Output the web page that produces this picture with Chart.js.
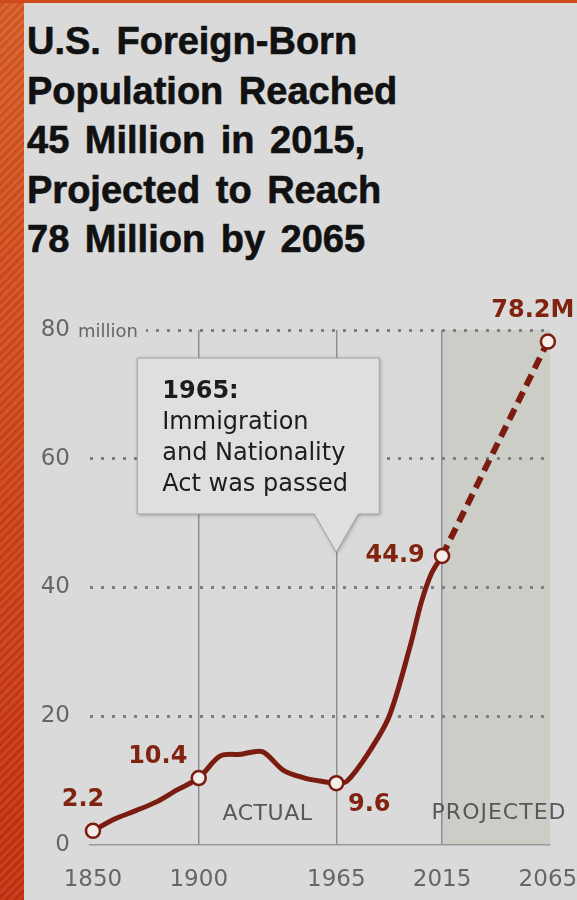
<!DOCTYPE html>
<html>
<head>
<meta charset="utf-8">
<script src="https://cdn.jsdelivr.net/npm/chart.js@4.4.1/dist/chart.umd.min.js"></script>
<style>
  html, body { margin: 0; padding: 0; }
  body { width: 577px; height: 900px; background: #dadada; position: relative; overflow: hidden; }
  #bar {
    position: absolute; left: 0; top: 0; width: 24px; height: 900px;
    background:
      repeating-linear-gradient(135deg, rgba(255,255,255,0.07) 0 3px, rgba(0,0,0,0.05) 3px 6px),
      linear-gradient(#d95b24, #cf4318 55%, #c5300f);
  }
  #topline { position: absolute; left: 0; top: 0; width: 577px; height: 3px; background: #cf4a1a; }
  #title {
    position: absolute; left: 27px; top: 17px;
    font: bold 38px "Liberation Sans", Arial, sans-serif;
    word-spacing: 5px;
    -webkit-text-stroke: 0.6px #111;
    line-height: 49.5px; color: #111; white-space: nowrap;
  }
  #chart { position: absolute; left: 0; top: 0; }
</style>
</head>
<body>
<div id="bar"></div>
<div id="topline"></div>
<div id="title">U.S. Foreign-Born<br>Population Reached<br>45 Million in 2015,<br>Projected to Reach<br>78 Million by 2065</div>
<canvas id="chart" width="577" height="900"></canvas>
<script>
// Foreign-born population of the U.S., millions
const years = [1850, 1860, 1870, 1880, 1890, 1900, 1910, 1920, 1930, 1940, 1950, 1960, 1965, 1970, 1980, 1990, 2000, 2005, 2010, 2015];
const foreignBorn = [2.2, 4.0, 5.3, 6.7, 8.6, 10.4, 13.8, 14.1, 14.5, 11.6, 10.4, 9.8, 9.6, 9.9, 14.2, 20.0, 31.0, 37.5, 42.2, 44.9];
const projYears = [2015, 2065];
const projValues = [44.9, 78.2];

// Years that get a marker and a value label
const markedYears = [1850, 1900, 1965, 2015];
const xTickYears = [1850, 1900, 1965, 2015, 2065];
const dividerYears = [1900, 1965, 2015];
const yTickValues = [0, 20, 40, 60, 80];

const LINE = '#7b1c10';
const LABEL = '#80240f';
const POINT_FILL = '#f3efe8';
const TICK_GRAY = '#666666';
const BG = '#dadada';

const actualData = years.map((y, i) => ({ x: y, y: foreignBorn[i] }));
const projData = projYears.map((y, i) => ({ x: y, y: projValues[i] }));

// label offsets (px) relative to each marked point
const labelOffsets = {
  1850: [-10, -31],
  1900: [-41, -21],
  1965: [33, 22],
  2015: [-47, 0],
  2065: [-15, -31]
};

const shadePlugin = {
  id: 'projShade',
  beforeDraw(chart) {
    const { ctx, chartArea: a, scales: { x } } = chart;
    const x0 = x.getPixelForValue(projYears[0]);
    ctx.save();
    ctx.fillStyle = '#cdcdc8';
    ctx.fillRect(x0, a.top, a.right - x0, a.bottom - a.top);
    ctx.restore();
  }
};

const decorPlugin = {
  id: 'decor',
  afterDatasetsDraw(chart) {
    const { ctx, chartArea: a, scales: { x, y } } = chart;
    const spacing = v => { if ('letterSpacing' in ctx) ctx.letterSpacing = v; };
    ctx.save();

    // period labels
    ctx.fillStyle = '#585858';
    ctx.font = '22px "DejaVu Sans", sans-serif';
    ctx.textAlign = 'center';
    ctx.textBaseline = 'middle';
    spacing('0.5px');
    const xa = (x.getPixelForValue(dividerYears[0]) + x.getPixelForValue(dividerYears[1])) / 2;
    ctx.fillText('ACTUAL', xa, a.bottom - 31);
    spacing('1px');
    const xp = (x.getPixelForValue(projYears[0]) + a.right) / 2 + 3;
    ctx.fillText('PROJECTED', xp, a.bottom - 32);
    spacing('0px');

    // value labels
    ctx.fillStyle = LABEL;
    ctx.font = 'bold 24px "DejaVu Sans", sans-serif';
    const m0 = chart.getDatasetMeta(0);
    years.forEach((yr, i) => {
      if (!markedYears.includes(yr)) return;
      const p = m0.data[i];
      const [dx, dy] = labelOffsets[yr];
      ctx.fillText(String(foreignBorn[i]), p.x + dx, p.y + dy);
    });
    const m1 = chart.getDatasetMeta(1);
    const last = m1.data[m1.data.length - 1];
    const lastYear = projYears[projYears.length - 1];
    const [ldx, ldy] = labelOffsets[lastYear];
    ctx.fillText(projValues[projValues.length - 1] + 'M', last.x + ldx, last.y + ldy);

    // "million" unit next to the top tick
    const y80 = y.getPixelForValue(80);
    ctx.fillStyle = BG;
    ctx.fillRect(a.left - 16, y80 - 6, 72, 12);
    ctx.fillStyle = TICK_GRAY;
    ctx.font = '18px "DejaVu Sans", sans-serif';
    ctx.textAlign = 'left';
    ctx.fillText('million', a.left - 12, y80 + 2);

    // annotation box for 1965
    const tipX = x.getPixelForValue(1965);
    const top = a.top + 28, bottom = a.top + 184, tipY = a.top + 222;
    const left = tipX - 199, right = tipX + 43;
    ctx.beginPath();
    ctx.moveTo(left, top);
    ctx.lineTo(right, top);
    ctx.lineTo(right, bottom);
    ctx.lineTo(tipX + 22, bottom);
    ctx.lineTo(tipX, tipY);
    ctx.lineTo(tipX - 22, bottom);
    ctx.lineTo(left, bottom);
    ctx.closePath();
    ctx.shadowColor = 'rgba(0,0,0,0.3)';
    ctx.shadowBlur = 4;
    ctx.shadowOffsetX = 1;
    ctx.shadowOffsetY = 1;
    ctx.fillStyle = '#dfdfdf';
    ctx.fill();
    ctx.shadowColor = 'transparent';
    ctx.strokeStyle = '#a2a2a2';
    ctx.lineWidth = 1;
    ctx.stroke();

    ctx.fillStyle = '#1c1c1c';
    ctx.textAlign = 'left';
    ctx.textBaseline = 'alphabetic';
    ctx.font = 'bold 24px "DejaVu Sans", sans-serif';
    ctx.fillText('1965:', left + 25, top + 40);
    ctx.font = '24px "DejaVu Sans", sans-serif';
    ctx.fillText('Immigration', left + 25, top + 71);
    ctx.fillText('and Nationality', left + 25, top + 102);
    ctx.fillText('Act was passed', left + 25, top + 133);
    ctx.restore();
  }
};

new Chart(document.getElementById('chart'), {
  type: 'line',
  data: {
    datasets: [
      {
        data: actualData,
        borderColor: LINE,
        borderWidth: 5,
        tension: 0.3,
        pointRadius: ctx => markedYears.includes(ctx.raw && ctx.raw.x) ? 7 : 0,
        pointBackgroundColor: POINT_FILL,
        pointBorderColor: LINE,
        pointBorderWidth: 2.5,
        fill: false
      },
      {
        data: projData,
        borderColor: LINE,
        borderWidth: 6,
        borderDash: [12, 7],
        pointRadius: ctx => ctx.dataIndex === projData.length - 1 ? 7 : 0,
        pointBackgroundColor: POINT_FILL,
        pointBorderColor: LINE,
        pointBorderWidth: 2.5,
        fill: false
      }
    ]
  },
  options: {
    responsive: false,
    devicePixelRatio: 1,
    animation: false,
    clip: false,
    layout: { padding: { left: 30, right: 27, top: 330, bottom: 0 } },
    plugins: { legend: { display: false }, tooltip: { enabled: false }, title: { display: false } },
    scales: {
      x: {
        type: 'linear',
        min: 1848.6,
        max: 2066,
        afterBuildTicks: s => { s.ticks = xTickYears.map(v => ({ value: v })); },
        afterFit: s => { s.height = 55; s.paddingLeft = 0; s.paddingRight = 0; },
        ticks: {
          callback: v => String(v),
          color: TICK_GRAY,
          font: { family: '"DejaVu Sans", sans-serif', size: 23 },
          padding: 21,
          maxRotation: 0,
          autoSkip: false
        },
        grid: {
          drawTicks: false,
          color: ctx => (ctx.tick && dividerYears.includes(ctx.tick.value)) ? '#8e8e8e' : 'transparent',
          lineWidth: 1.5
        },
        border: { display: true, color: '#9a9a9a', width: 1.5 }
      },
      y: {
        min: 0,
        max: 80,
        afterBuildTicks: s => { s.ticks = yTickValues.map(v => ({ value: v })); },
        afterFit: s => { s.width = 60; s.paddingTop = 0; s.paddingBottom = 0; },
        ticks: {
          color: TICK_GRAY,
          font: { family: '"DejaVu Sans", sans-serif', size: 23 },
          padding: 20
        },
        grid: {
          drawTicks: false,
          color: ctx => (ctx.tick && ctx.tick.value === 0) ? 'transparent' : '#7f7f7f',
          lineWidth: 3
        },
        border: { display: false, dash: [3, 8] }
      }
    }
  },
  plugins: [shadePlugin, decorPlugin]
});
</script>
</body>
</html>
